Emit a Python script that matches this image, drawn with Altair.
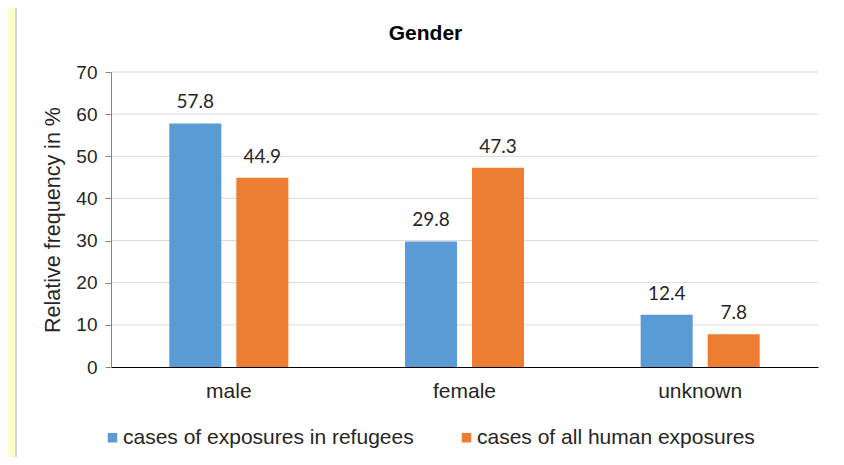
import altair as alt
import pandas as pd

categories = ["male", "female", "unknown"]
series_names = ["cases of exposures in refugees", "cases of all human exposures"]
refugees = [57.8, 29.8, 12.4]
all_human = [44.9, 47.3, 7.8]
y_ticks = [0, 10, 20, 30, 40, 50, 60, 70]
colors = ["#5B9BD5", "#ED7D31"]

rows = []
for c, v in zip(categories, refugees):
    rows.append({"category": c, "series": series_names[0], "value": v})
for c, v in zip(categories, all_human):
    rows.append({"category": c, "series": series_names[1], "value": v})
df = pd.DataFrame(rows)
grid_df = pd.DataFrame({"value": y_ticks[1:]})

FONT = "Liberation Sans"

panel = alt.Chart(pd.DataFrame({"k": [0]})).mark_rect(
    fill="white", stroke="#D4D4D4", strokeWidth=2
).encode(
    x=alt.value(-95), x2=alt.value(760), y=alt.value(-68), y2=alt.value(460)
)

yscale = alt.Scale(domain=[0, 70])
yaxis = alt.Axis(
    values=y_ticks, title="Relative frequency in %", titleFont=FONT,
    titleFontSize=21.5, titleFontWeight="normal", titleColor="#262626",
    titlePadding=11, grid=False, zindex=1,
    labelFont=FONT, labelFontSize=19, labelColor="#262626", labelPadding=8,
    tickSize=6, tickColor="#868686", domainColor="#868686",
)

grid = alt.Chart(grid_df).mark_rule(color="#D9D9D9", strokeWidth=1).encode(
    y=alt.Y("value:Q", scale=yscale, axis=yaxis)
)

base = alt.Chart(df).encode(
    x=alt.X(
        "category:N",
        sort=categories,
        scale=alt.Scale(paddingInner=0, paddingOuter=0),
        axis=alt.Axis(
            title=None, labelAngle=0, ticks=False, domainColor="#000000",
            labelFont=FONT, labelFontSize=21, labelColor="#262626", labelPadding=13,
            grid=False, zindex=1,
        ),
    ),
    xOffset=alt.XOffset(
        "series:N", sort=series_names,
        scale=alt.Scale(paddingInner=0.224, paddingOuter=0.87),
    ),
    y=alt.Y("value:Q", scale=yscale, axis=yaxis),
)

bars = base.mark_bar().encode(
    color=alt.Color(
        "series:N", sort=series_names,
        scale=alt.Scale(domain=series_names, range=colors),
        legend=alt.Legend(
            title=None, orient="none", legendX=-9, legendY=355, direction="horizontal",
            symbolType="square", symbolSize=90, symbolStrokeWidth=0,
            labelFont=FONT, labelFontSize=21, labelColor="#262626", labelLimit=0,
            columnPadding=42, labelOffset=0,
        ),
    )
)

labels = base.mark_text(
    font="Lato", fontSize=19, color="#262626", baseline="alphabetic", dy=-15
).encode(text=alt.Text("value:Q", format=".1f"))

chart = alt.layer(panel, grid, bars, labels).properties(
    width=707,
    height=295,
    padding={"left": 103, "top": 64, "right": 18, "bottom": 90},
    autosize=alt.AutoSizeParams(type="none"),
    background="#FFFFCC",
    title=alt.Title(
        "Gender", font=FONT, fontSize=21, fontWeight="bold", color="#000000",
        anchor="middle", frame="group", dx=-39, offset=-41,
    ),
).configure_view(stroke=None)

chart.save("out.html", embed_options={"renderer": "svg", "actions": False})
